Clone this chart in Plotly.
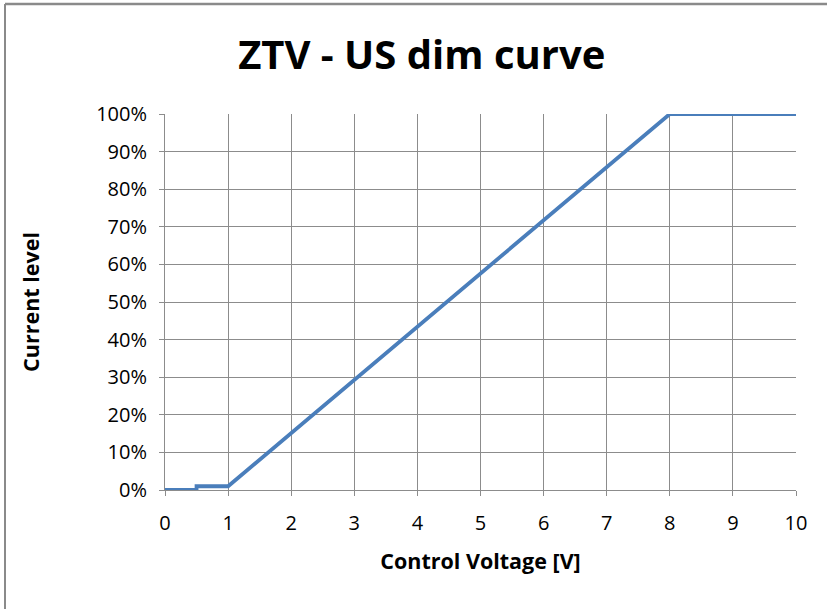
import plotly.graph_objects as go

voltage = [0, 0.5, 0.5, 1, 8, 10]
current = [0, 0, 1, 1, 100, 100]
x_ticks = [0, 1, 2, 3, 4, 5, 6, 7, 8, 9, 10]
y_ticks = [0, 10, 20, 30, 40, 50, 60, 70, 80, 90, 100]
y_labels = [f"{v}%" for v in y_ticks]

fig = go.Figure()
fig.add_trace(go.Scatter(x=voltage, y=current, mode="lines",
                         line=dict(color="#4A7EBB", width=3.8), showlegend=False))

grid = "#8c8c8c"
fig.update_layout(
    width=827, height=609,
    margin=dict(l=165, r=31, t=114, b=119),
    paper_bgcolor="white", plot_bgcolor="white",
    font=dict(family="Open Sans, Liberation Sans, sans-serif", color="black"),
    title=dict(text="<b>ZTV - US dim curve</b>", x=0.51, xanchor="center",
               y=1 - 55 / 609, yanchor="middle",
               font=dict(size=40, color="black")),
    xaxis=dict(range=[0, 10], tickmode="array", tickvals=x_ticks,
               showgrid=True, gridcolor=grid, gridwidth=1,
               showline=True, linecolor=grid, mirror=False,
               ticks="outside", ticklen=5, tickcolor=grid,
               ticklabelstandoff=10,
               tickfont=dict(size=20), zeroline=False,
               title=dict(text="<b>Control Voltage [V]</b>", font=dict(size=21.5), standoff=18)),
    yaxis=dict(range=[0, 100], tickmode="array", tickvals=y_ticks, ticktext=y_labels,
               showgrid=True, gridcolor=grid, gridwidth=1,
               showline=True, linecolor=grid,
               ticks="outside", ticklen=5, tickcolor=grid,
               ticklabelstandoff=8,
               tickfont=dict(size=20), zeroline=False,
               title=dict(text="<b>Current level</b>", font=dict(size=21.5), standoff=50)),
)

# outer chart border (top and left visible)
px_x = lambda p: (p - 165) / 631
px_y = lambda p: (490 - p) / 376
fig.add_shape(type="line", xref="paper", yref="paper",
              x0=px_x(5), x1=px_x(900), y0=px_y(4), y1=px_y(4),
              line=dict(color="#8a8a8a", width=2.5))
fig.add_shape(type="line", xref="paper", yref="paper",
              x0=px_x(5), x1=px_x(5), y0=px_y(4), y1=px_y(700),
              line=dict(color="#8a8a8a", width=2))

fig.write_html("out.html", config={"displayModeBar": False},
               post_script="document.body.style.margin='0';")
